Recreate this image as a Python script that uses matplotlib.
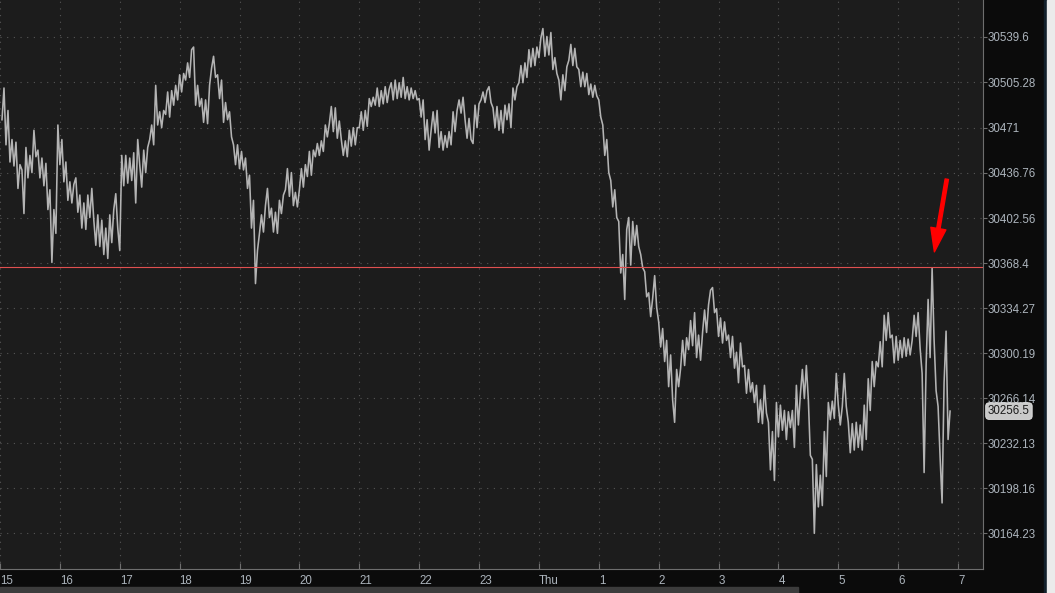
import matplotlib.pyplot as plt
import numpy as np

# Dow futures, 2-minute samples starting 15:02 (prev day) through ~06:52 Thu
prices = [
    30477, 30501, 30458, 30484, 30445, 30462, 30442, 30460, 30425, 30443,
    30439, 30406, 30456, 30433, 30450, 30437, 30469, 30449, 30454, 30433,
    30448, 30427, 30444, 30409, 30424, 30369, 30409, 30391, 30473, 30443,
    30462, 30430, 30445, 30416, 30430, 30414, 30428, 30433, 30407, 30420,
    30395, 30414, 30394, 30420, 30403, 30425, 30401, 30382, 30405, 30381,
    30401, 30375, 30395, 30372, 30405, 30384, 30409, 30421, 30395, 30378,
    30450, 30427, 30450, 30429, 30448, 30431, 30452, 30414, 30462, 30443,
    30426, 30454, 30437, 30456, 30462, 30473, 30458, 30503, 30473, 30483,
    30471, 30484, 30481, 30498, 30479, 30499, 30488, 30503, 30492, 30511,
    30498, 30512, 30507, 30520, 30509, 30530, 30532, 30488, 30503, 30487,
    30493, 30475, 30492, 30474, 30503, 30516, 30525, 30509, 30511, 30493,
    30507, 30475, 30490, 30477, 30483, 30464, 30458, 30443, 30458, 30440,
    30453, 30439, 30448, 30425, 30435, 30395, 30416, 30353, 30378, 30391,
    30405, 30392, 30412, 30425, 30403, 30410, 30392, 30407, 30391, 30416,
    30406, 30420, 30424, 30440, 30419, 30437, 30412, 30422, 30411, 30424,
    30440, 30426, 30443, 30434, 30453, 30435, 30454, 30449, 30459, 30450,
    30461, 30453, 30473, 30464, 30474, 30487, 30468, 30486, 30463, 30476,
    30462, 30450, 30461, 30449, 30469, 30457, 30471, 30458, 30471, 30471,
    30483, 30469, 30484, 30472, 30493, 30487, 30494, 30488, 30501, 30487,
    30499, 30489, 30502, 30490, 30500, 30505, 30492, 30507, 30493, 30505,
    30494, 30509, 30493, 30502, 30492, 30501, 30493, 30499, 30492, 30493,
    30479, 30492, 30462, 30477, 30454, 30469, 30483, 30467, 30484, 30456,
    30468, 30454, 30465, 30456, 30468, 30458, 30483, 30468, 30484, 30492,
    30482, 30494, 30477, 30463, 30478, 30462, 30459, 30488, 30471, 30489,
    30492, 30498, 30490, 30499, 30502, 30490, 30486, 30471, 30487, 30469,
    30484, 30467, 30488, 30477, 30489, 30471, 30501, 30492, 30502, 30505,
    30518, 30505, 30520, 30509, 30530, 30517, 30531, 30518, 30532, 30524,
    30539, 30546, 30525, 30540, 30526, 30543, 30515, 30524, 30512, 30507,
    30492, 30511, 30499, 30517, 30522, 30534, 30518, 30531, 30517, 30515,
    30502, 30513, 30502, 30512, 30496, 30504, 30494, 30503, 30495, 30492,
    30479, 30473, 30450, 30462, 30437, 30431, 30411, 30424, 30403, 30400,
    30361, 30375, 30341, 30394, 30403, 30367, 30400, 30382, 30397, 30381,
    30375, 30365, 30362, 30343, 30346, 30328, 30342, 30359, 30335, 30324,
    30305, 30319, 30294, 30310, 30275, 30299, 30265, 30248, 30288, 30275,
    30289, 30310, 30291, 30312, 30303, 30325, 30306, 30331, 30297, 30314,
    30295, 30316, 30333, 30316, 30337, 30348, 30350, 30331, 30334, 30313,
    30327, 30308, 30324, 30310, 30314, 30297, 30313, 30289, 30301, 30278,
    30308, 30290, 30291, 30270, 30288, 30271, 30278, 30263, 30276, 30248,
    30265, 30247, 30276, 30255, 30248, 30212, 30241, 30204, 30263, 30237,
    30261, 30242, 30257, 30235, 30256, 30244, 30257, 30229, 30276, 30246,
    30269, 30288, 30266, 30291, 30265, 30223, 30220, 30164, 30216, 30184,
    30208, 30185, 30241, 30207, 30263, 30250, 30264, 30251, 30285, 30261,
    30246, 30260, 30285, 30260, 30248, 30225, 30247, 30227, 30248, 30229,
    30246, 30227, 30261, 30235, 30281, 30257, 30294, 30275, 30294, 30290,
    30309, 30290, 30329, 30310, 30331, 30312, 30314, 30293, 30313, 30295,
    30310, 30297, 30312, 30298, 30311, 30299, 30310, 30329, 30313, 30331,
    30304, 30285, 30210, 30291, 30341, 30297, 30365, 30310, 30272, 30260,
    30222, 30187, 30278, 30317, 30235, 30256.5,
]
start_minute = 2    # minutes after 15:00
step_minutes = 2

level_price = 30365.5
last_price = 30256.5
ytick_vals = [30539.6, 30505.28, 30471, 30436.76, 30402.56, 30368.4,
              30334.27, 30300.19, 30266.14, 30232.13, 30198.16, 30164.23]
ytick_labels = ['30539.6', '30505.28', '30471', '30436.76', '30402.56', '30368.4',
                '30334.27', '30300.19', '30266.14', '30232.13', '30198.16', '30164.23']
xtick_hours = list(range(15, 32))
xtick_labels = ['15', '16', '17', '18', '19', '20', '21', '22', '23', 'Thu',
                '1', '2', '3', '4', '5', '6', '7']
arrow_tail = (30.812, 30432)
arrow_tip = (30.605, 30377)

hours = 15 + (start_minute + step_minutes * np.arange(len(prices))) / 60

plt.rcParams['font.family'] = ['Liberation Sans', 'DejaVu Sans']

W, H = 1055, 593
fig = plt.figure(figsize=(W / 100, H / 100), dpi=100, facecolor='#0b0b0b')
ax = fig.add_axes([0, 1 - 569 / H, 983 / W, 569 / H])
ax.set_facecolor('#1c1c1c')

ax.plot(hours, prices, color='#b4b4b4', lw=1.15, zorder=3)
ax.axhline(level_price, color='#e05050', lw=0.8, zorder=4)

ax.set_xlim(15 + 2 / 60, 15 + 985 / 60)
ax.set_ylim(30137.0, 30567.6)

ax.yaxis.tick_right()
ax.set_yticks(ytick_vals)
ax.set_yticklabels(ytick_labels)
ax.set_xticks(xtick_hours)
ax.set_xticklabels(xtick_labels)
for lbl in ax.get_xticklabels():
    lbl.set_horizontalalignment('left')

ax.grid(True, color='#565656', linestyle=(0, (1, 5)), lw=0.8, zorder=1)
for side in ['left', 'top']:
    ax.spines[side].set_visible(False)
for side in ['right', 'bottom']:
    ax.spines[side].set_color('#6e6e6e')
    ax.spines[side].set_linewidth(0.8)

ax.tick_params(axis='y', direction='out', length=3, width=0.8, colors='#6e6e6e',
               labelcolor='#adb5bd', labelsize=8.3, pad=0.5)
ax.tick_params(axis='x', direction='in', length=4, width=0.8, colors='#6e6e6e',
               labelcolor='#adb5bd', labelsize=8.3, pad=4)

# last price tag
ax.annotate(f'{last_price}', xy=(1, last_price), xycoords=('axes fraction', 'data'),
            xytext=(5, 0), textcoords='offset pixels', ha='left', va='center',
            fontsize=8.3, color='#1a1a1a', annotation_clip=False, zorder=7,
            bbox=dict(boxstyle='round,pad=0.2,rounding_size=0.3',
                      fc='#c9c9c9', ec='#e6e6e6', lw=0.6))

# red arrow pointing at the spike
ax.annotate('', xy=arrow_tip, xytext=arrow_tail,
            arrowprops=dict(width=2.4, headwidth=11, headlength=17, shrink=0,
                            color='#ff0000'), zorder=6)

# window chrome: scrollbar and right edge
fig.patches.append(plt.Rectangle((0, 0), 798 / W, 6 / H, transform=fig.transFigure,
                                 color='#3c3c3c', zorder=0))
fig.patches.append(plt.Rectangle((1044 / W, 0), 3 / W, 1, transform=fig.transFigure,
                                 color='#12202b', zorder=0))
fig.patches.append(plt.Rectangle((1047 / W, 0), 8 / W, 1, transform=fig.transFigure,
                                 color='#ebebeb', zorder=0))

fig.savefig('out.png', dpi=100, facecolor=fig.get_facecolor())
